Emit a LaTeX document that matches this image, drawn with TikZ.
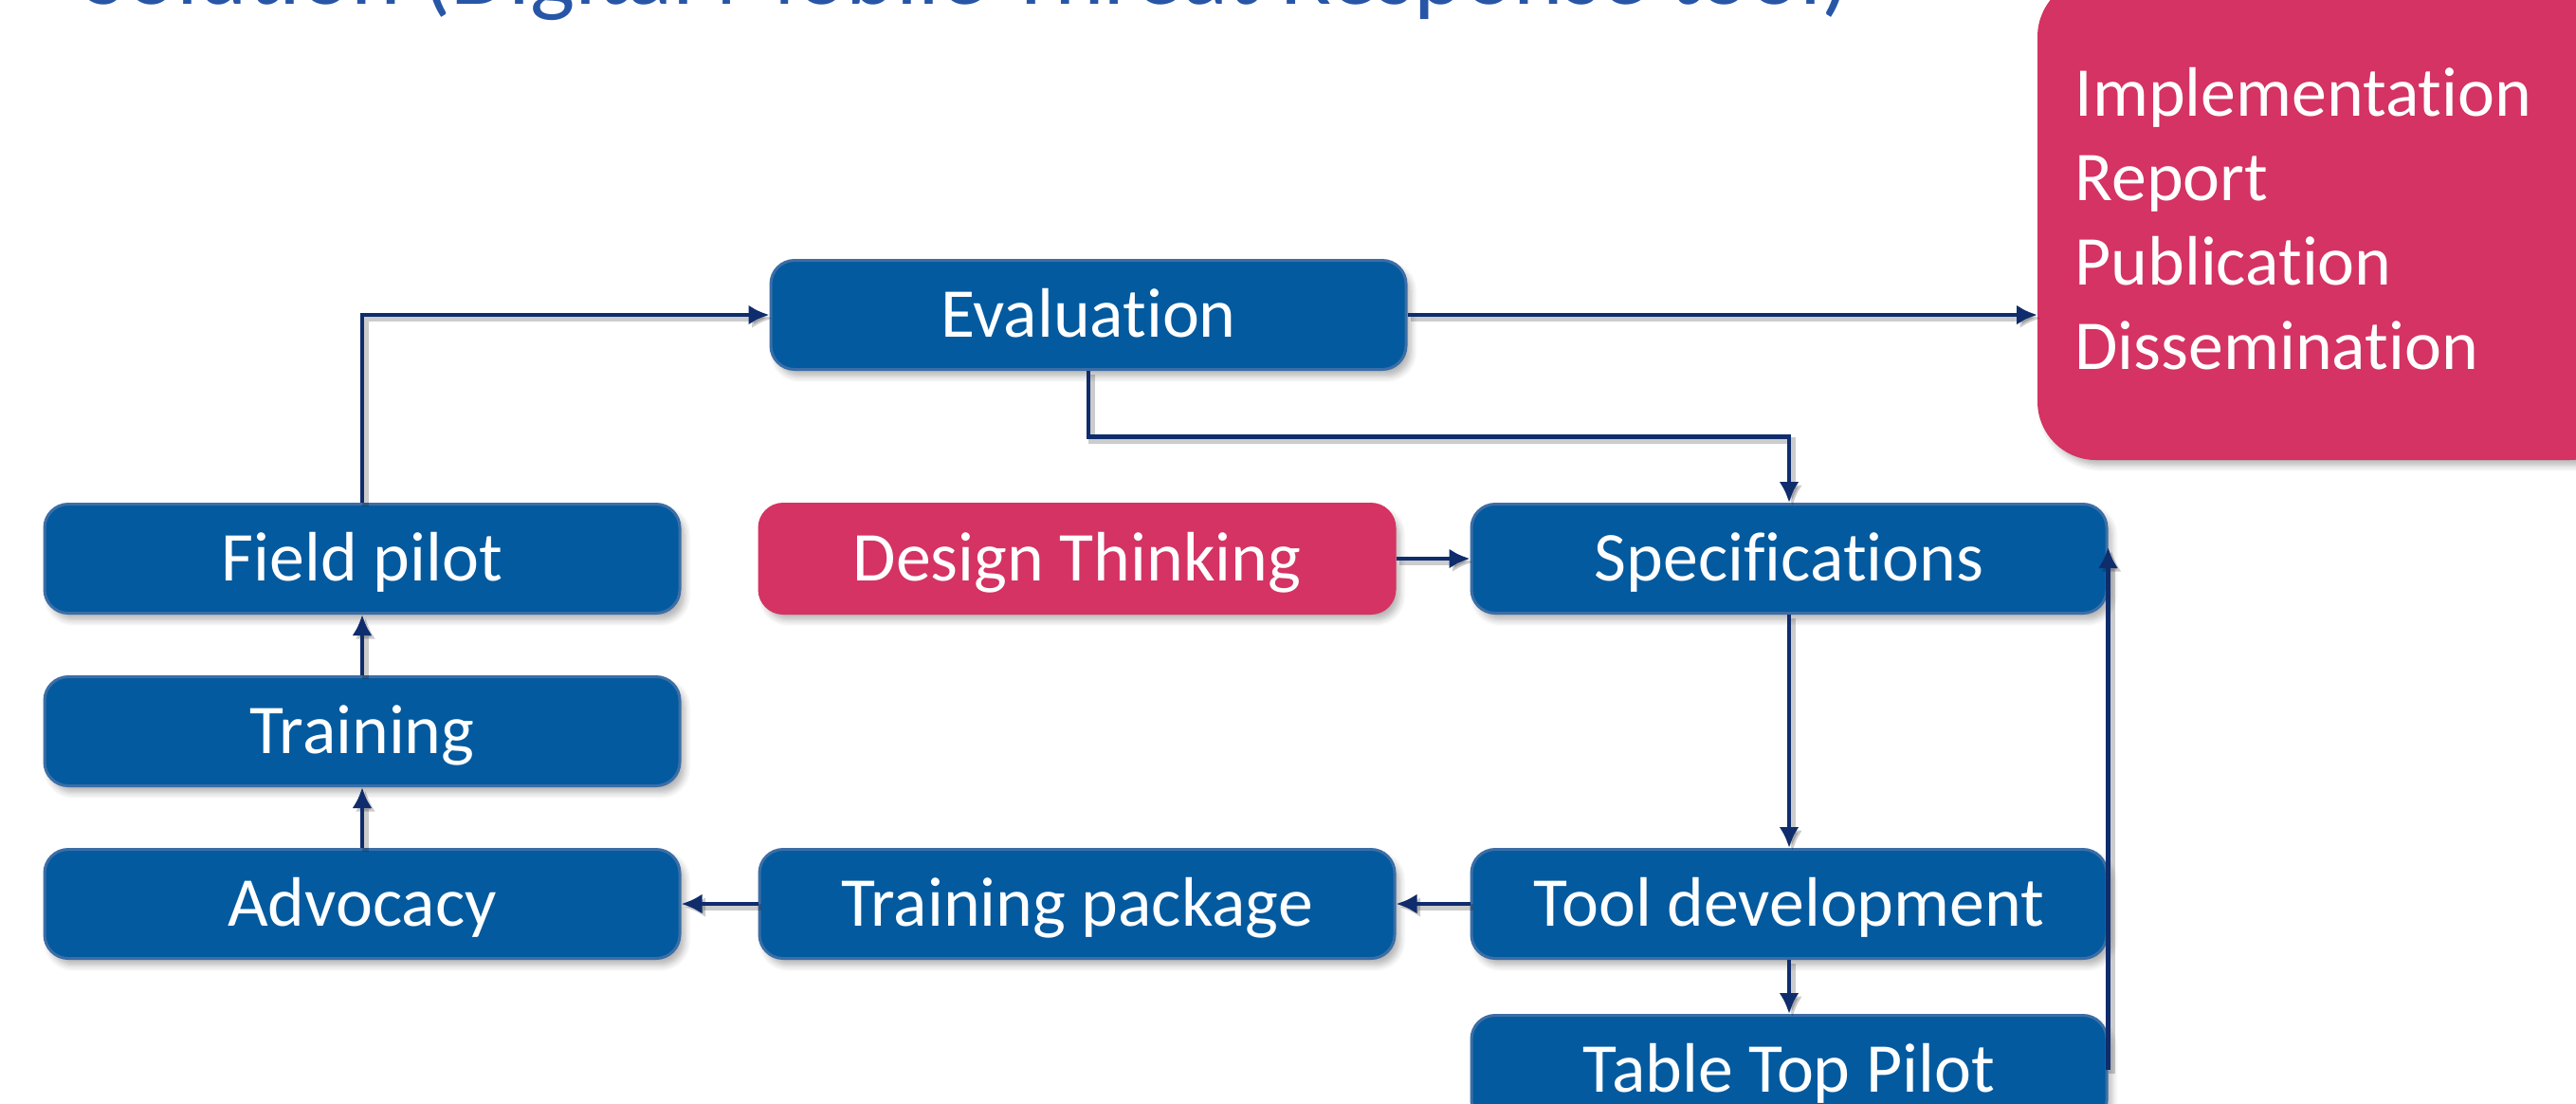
\documentclass[tikz,border=0pt]{standalone}
\usepackage{fontspec}
\setmainfont{Carlito}[Ligatures=NoCommon]
\usetikzlibrary{shapes, arrows.meta, positioning, calc, shadows.blur}
\definecolor{stepblue}{HTML}{035A9F}
\definecolor{stepedge}{HTML}{3C6EA6}
\definecolor{steppink}{HTML}{D43363}
\definecolor{linknavy}{HTML}{0F2D6C}
\definecolor{titleblue}{HTML}{2756A6}
\tikzstyle{phase}=[rectangle, rounded corners=2.5mm, fill=stepblue, draw=stepedge,
  line width=0.3mm, text=white, minimum width=67mm, minimum height=11.5mm,
  text height=4.75mm, text depth=0pt, font=\fontsize{21}{25.3}\selectfont,
  blur shadow={shadow xshift=0.5mm, shadow yshift=-0.7mm, shadow opacity=30, shadow blur steps=6}]
\tikzstyle{extra}=[phase, fill=steppink, draw=steppink]
\tikzstyle{link}=[draw=linknavy, line width=0.45mm, -{Latex[length=2.2mm,width=2.1mm]},
  preaction={draw=black, opacity=0.2, line width=0.7mm, transform canvas={xshift=0.35mm, yshift=-0.35mm}}]

\begin{document}
\begin{tikzpicture}[>=Latex, node distance=6.4mm and 8.1mm]
  \useasboundingbox (0,0) rectangle (271.7mm,-116.3mm);
  \clip (0,0) rectangle (271.7mm,-116.3mm);
  \node[font=\fontsize{28.4}{34}\selectfont, text=titleblue, anchor=base west, inner sep=0pt] (title) at (8.7mm,-0.4mm) {Solution (Digital Mobile Threat Response tool)};
  \node[phase] (fieldpilot) at (38.2mm,-58.9mm) {Field pilot};
  \node[phase, below=of fieldpilot] (training) {Training};
  \node[phase, below=of training] (advocacy) {Advocacy};
  \node[extra, right=of fieldpilot] (design) {Design Thinking};
  \node[phase, right=7.8mm of design] (specs) {Specifications};
  \node[phase, right=of advocacy] (trainpack) {Training package};
  \node[phase, right=7.8mm of trainpack] (tooldev) {Tool development};
  \node[phase, below=5.7mm of tooldev] (tabletop) {Table Top Pilot};
  \node[phase, above=13.9mm of design, xshift=1.2mm] (evaluation) {Evaluation};
  \node[extra, anchor=south west, rounded corners=6mm, minimum width=62mm, minimum height=50.5mm,
    text width=54.4mm, align=left, text height=, text depth=, inner xsep=3.8mm] (results)
    at (214.9mm,-48.5mm) {Implementation\\Report\\Publication\\Dissemination};
  \coordinate (split) at ($(evaluation.south)!.5!(specs.north)$);
  \draw[link] (fieldpilot.north) |- (evaluation.west);
  \draw[link] (evaluation.east) -- (evaluation.east -| results.west);
  \draw[link] (evaluation.south) |- (split) -| (specs.north);
  \draw[link] (design) -- (specs);
  \draw[link] (specs) -- (tooldev);
  \draw[link] (tooldev) -- (tabletop);
  \draw[link] (tabletop.east) -- ([yshift=1.2mm]specs.east);
  \draw[link] (tooldev) -- (trainpack);
  \draw[link] (trainpack) -- (advocacy);
  \draw[link] (advocacy) -- (training);
  \draw[link] (training) -- (fieldpilot);
\end{tikzpicture}
\end{document}
